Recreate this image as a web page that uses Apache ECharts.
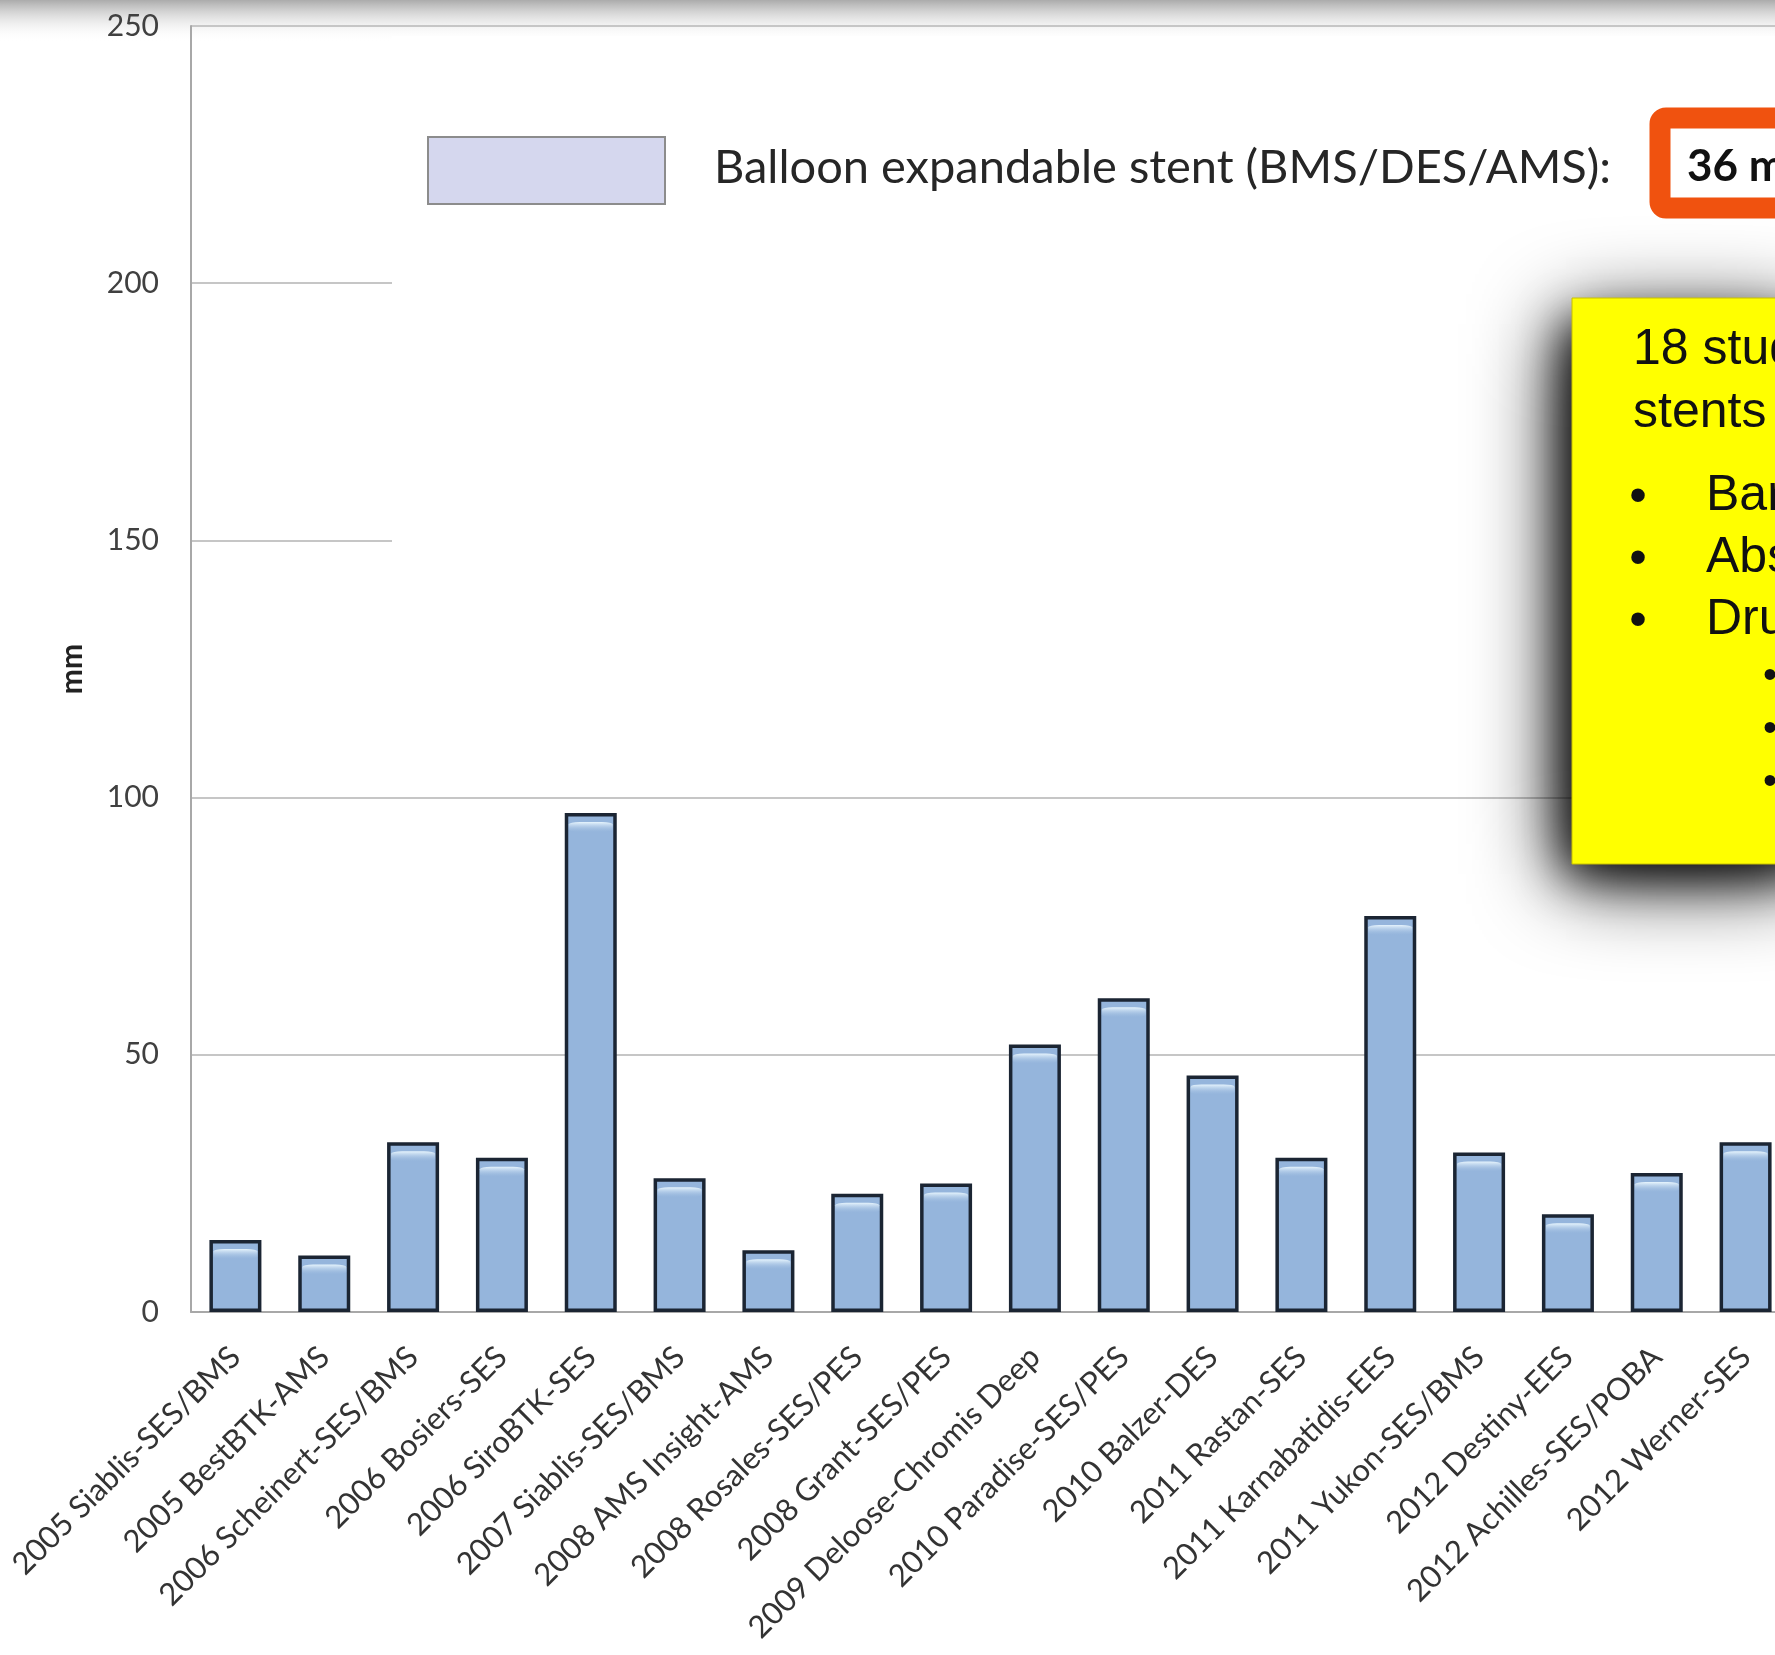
<!DOCTYPE html>
<html>
<head>
<meta charset="utf-8">
<script src="https://cdn.jsdelivr.net/npm/echarts@6/dist/echarts.min.js"></script>
<style>
  html, body { margin: 0; padding: 0; background: #ffffff; overflow: hidden; }
  #chart { width: 1790px; height: 1655px; }
</style>
</head>
<body>
<div id="chart"></div>
<script>
// ---- data ----
const categories = [
  '2005 Siablis-SES/BMS', '2005 BestBTK-AMS', '2006 Scheinert-SES/BMS', '2006 Bosiers-SES',
  '2006 SiroBTK-SES', '2007 Siablis-SES/BMS', '2008 AMS Insight-AMS', '2008 Rosales-SES/PES',
  '2008 Grant-SES/PES', '2009 Deloose-Chromis Deep', '2010 Paradise-SES/PES', '2010 Balzer-DES',
  '2011 Rastan-SES', '2011 Karnabatidis-EES', '2011 Yukon-SES/BMS', '2012 Destiny-EES',
  '2012 Achilles-SES/POBA', '2012 Werner-SES'
];
const lesionLength = [14, 11, 33, 30, 97, 26, 12, 23, 25, 52, 61, 46, 30, 77, 31, 19, 27, 33];
const yAxisName = 'mm';
const legendText = 'Balloon expandable stent (BMS/DES/AMS):';
const highlightValue = '36 mm';
const boxLines = ['18 studies', 'stents'];
const boxBullets = ['Bare', 'Absorbable', 'Drug-eluting'];
const boxSubBullets = ['•', '•', '•'];

const chart = echarts.init(document.getElementById('chart'));

const FONT = 'Lato, "Open Sans", sans-serif';
const ARIAL = '"Liberation Sans", Arial, sans-serif';

const graphics = [
  // slide top shading
  { type: 'rect', z: 0, silent: true,
    shape: { x: 0, y: 0, width: 1790, height: 42 },
    style: { fill: new echarts.graphic.LinearGradient(0, 0, 0, 1, [
      { offset: 0, color: 'rgba(150,150,150,0.8)' },
      { offset: 1, color: 'rgba(255,255,255,0)' }
    ]) } },
  // white panel covering upper gridlines (legend area)
  { type: 'rect', z: 50, silent: true,
    shape: { x: 392, y: 36, width: 1400, height: 540 },
    style: { fill: '#ffffff' } },
  // legend swatch
  { type: 'rect', z: 60,
    shape: { x: 428, y: 137, width: 237, height: 67 },
    style: { fill: '#d5d7ee', stroke: '#8c8c8c', lineWidth: 2 } },
  { type: 'text', z: 60, x: 714, y: 168,
    style: { text: legendText, font: '47px ' + FONT, fill: '#262626', verticalAlign: 'middle', align: 'left' } },
  // highlight box
  { type: 'rect', z: 60,
    shape: { x: 1660, y: 118, width: 160, height: 90, r: 6 },
    style: { fill: '#ffffff', stroke: '#f0520f', lineWidth: 21 } },
  { type: 'text', z: 61, x: 1687, y: 167,
    style: { text: highlightValue, font: 'bold 44px ' + FONT, fill: '#111111', verticalAlign: 'middle', align: 'left' } },
  // yellow box soft shadows (hidden behind the box itself)
  { type: 'rect', z: 68,
    shape: { x: 1580, y: 306, width: 240, height: 550 },
    style: { fill: '#000', shadowBlur: 90, shadowColor: 'rgba(0,0,0,1)', shadowOffsetX: -14, shadowOffsetY: 18 } },
  { type: 'rect', z: 69,
    shape: { x: 1580, y: 306, width: 240, height: 550 },
    style: { fill: '#000', shadowBlur: 45, shadowColor: 'rgba(0,0,0,0.9)', shadowOffsetX: -14, shadowOffsetY: 18 } },
  { type: 'rect', z: 70,
    shape: { x: 1572, y: 298, width: 260, height: 566 },
    style: { fill: '#ffff00', stroke: '#c8c000', lineWidth: 1 } }
];

const lineY = [350, 413];
boxLines.forEach((t, i) => graphics.push({ type: 'text', z: 71, x: 1633, y: lineY[i],
  style: { text: t, font: '50px ' + ARIAL, fill: '#111', verticalAlign: 'middle', align: 'left' } }));
const bulletY = [496, 558, 620];
boxBullets.forEach((t, i) => {
  graphics.push({ type: 'text', z: 71, x: 1638, y: bulletY[i] + 2,
    style: { text: '•', font: '50px ' + ARIAL, fill: '#111', verticalAlign: 'middle', align: 'center' } });
  graphics.push({ type: 'text', z: 71, x: 1706, y: bulletY[i],
    style: { text: t, font: '50px ' + ARIAL, fill: '#111', verticalAlign: 'middle', align: 'left' } });
});
const subY = [677, 730, 783];
boxSubBullets.forEach((t, i) => graphics.push({ type: 'text', z: 71, x: 1770, y: subY[i],
  style: { text: t, font: '40px ' + ARIAL, fill: '#111', verticalAlign: 'middle', align: 'center' } }));

chart.setOption({
  animation: false,
  backgroundColor: '#ffffff',
  grid: { left: 191, top: 26, right: 0, bottom: 343, containLabel: false },
  xAxis: {
    type: 'category',
    data: categories,
    axisLine: { show: true, lineStyle: { color: '#a8a8a8', width: 2 } },
    axisTick: { show: false },
    axisLabel: { interval: 0, rotate: 45, margin: 40, fontSize: 31, fontFamily: FONT, color: '#333333' }
  },
  yAxis: {
    type: 'value', min: 0, max: 250, interval: 50,
    name: yAxisName, nameLocation: 'middle', nameRotate: 90, nameGap: 104,
    nameTextStyle: { fontSize: 30, fontWeight: 'bold', fontFamily: FONT, color: '#222' },
    axisLine: { show: true, lineStyle: { color: '#a8a8a8', width: 2 } },
    axisTick: { show: false },
    splitLine: { show: true, lineStyle: { color: '#c6c6c6', width: 2 } },
    axisLabel: { margin: 32, fontSize: 30, fontFamily: FONT, color: '#404040' }
  },
  series: [
    {
      type: 'bar', data: lesionLength, barWidth: 52, z: 2,
      itemStyle: { color: '#95b5dc', borderColor: '#1b2533', borderWidth: 3.5 }
    },
    {
      type: 'pictorialBar', data: lesionLength, z: 3, silent: true,
      symbol: 'roundRect', symbolPosition: 'end', symbolSize: [44, 10], symbolOffset: [0, 9],
      itemStyle: { color: new echarts.graphic.LinearGradient(0, 0, 0, 1, [
        { offset: 0, color: 'rgba(235,248,255,0.95)' },
        { offset: 1, color: 'rgba(149,181,220,0.2)' }
      ]) }
    }
  ],
  graphic: graphics
});
</script>
</body>
</html>
